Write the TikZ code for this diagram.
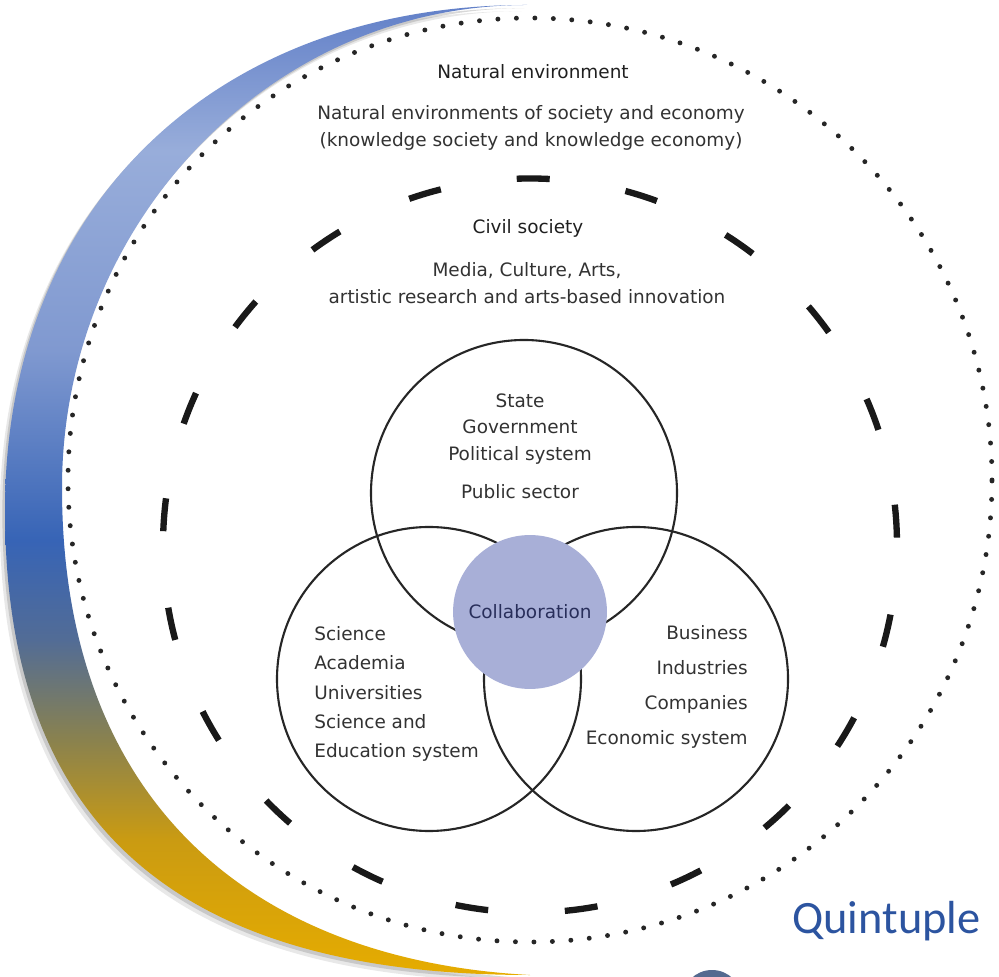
\documentclass[tikz,border=0pt]{standalone}
\usepackage{fontspec}
\setmainfont{DejaVu Sans}
\newfontfamily\quintfont{Carlito}
\usetikzlibrary{shadows}

\definecolor{tipblue}{RGB}{98,128,200}
\definecolor{paleblue}{RGB}{152,173,218}
\definecolor{softblue}{RGB}{128,153,208}
\definecolor{deepblue}{RGB}{55,100,182}
\definecolor{slateblue}{RGB}{82,108,150}
\definecolor{olivegold}{RGB}{138,130,78}
\definecolor{darkgold}{RGB}{202,155,18}
\definecolor{brightgold}{RGB}{230,172,0}
\definecolor{collabfill}{RGB}{168,175,215}
\definecolor{collabtext}{RGB}{40,46,90}
\definecolor{quintblue}{RGB}{44,84,160}
\definecolor{blobgray}{RGB}{84,106,144}
\definecolor{inktext}{RGB}{50,50,50}

\pgfdeclareverticalshading{crescentshade}{100bp}{color(0bp)=(brightgold); color(25bp)=(brightgold); color(32bp)=(darkgold); color(37.1bp)=(olivegold); color(42.3bp)=(slateblue); color(47.4bp)=(deepblue); color(57.2bp)=(softblue); color(67.5bp)=(paleblue); color(75bp)=(tipblue); color(100bp)=(tipblue)}

\begin{document}
\begin{tikzpicture}[x=0.02cm,y=0.02cm,inner sep=0.4mm,
  dotline/.style={line width=2.8pt,line cap=round,dash pattern=on 0pt off 10.5216pt,black!85},
  civilline/.style={line width=3.6pt,line cap=butt,dash pattern=on 18.78pt off 43.71pt,dash phase=58pt,black!90},
  venn/.style={line width=1.2pt,black!85},
  body/.style={font=\fontsize{10.5}{15.3}\selectfont,text=inktext,align=center},
  heading/.style={font=\fontsize{10.5}{15.3}\selectfont,text=black!88}]
\useasboundingbox (0,0) rectangle (999,976);
\fill[white] (0,0) rectangle (999,976);

\coordinate (outer) at (530,496);
\coordinate (civil) at (530,430.5);
\coordinate (statec) at (524,483);
\coordinate (sciencec) at (429,297);
\coordinate (businessc) at (636,297);
\coordinate (tiptop) at (527,971);
\coordinate (tipbottom) at (530,1);
\coordinate (rimleft) at (5,466);
\coordinate (hollowleft) at (62,488);

\draw[dotline] (outer) circle (462);
\draw[civilline] (civil) circle (367);

\shade[shading=crescentshade,
  drop shadow={shadow xshift=-3pt,shadow yshift=-3.5pt,opacity=0.18},
  drop shadow={shadow xshift=-1.5pt,shadow yshift=-1.8pt,opacity=0.3}]
  (tiptop) .. controls (214,971) and (5,769) .. (rimleft)
  .. controls (5,164) and (162,1) .. (tipbottom)
  .. controls (250,16) and (62,176) .. (hollowleft)
  .. controls (62,751) and (268,971) .. (tiptop) -- cycle;

\draw[venn] (statec) circle (153);
\draw[venn] (sciencec) circle (152);
\draw[venn] (businessc) circle (152);
\node[circle,fill=collabfill,minimum size=87.6pt,inner sep=0,font=\fontsize{10.5}{12}\selectfont,text=collabtext] (collab) at (530,364) {Collaboration};

\node[heading] (natural) at (533,904) {Natural environment};
\node[body] (naturaltext) at (531,848) {Natural environments of society and economy\\(knowledge society and knowledge economy)};
\node[heading] (society) at (528,748) {Civil society};
\node[body] (societytext) at (527,693) {Media, Culture, Arts,\\artistic research and arts-based innovation};

\node[body] (state) at (520,530) {State\\Government\\Political system\\[6pt]Public sector};
\node[body,align=left,anchor=west,inner sep=0,font=\fontsize{10.5}{16.6}\selectfont] (science) at (314,282) {Science\\Academia\\Universities\\Science and\\Education system};
\node[body,align=right,anchor=east,inner sep=0,font=\fontsize{10.5}{19.8}\selectfont] (business) at (748,289) {Business\\Industries\\Companies\\Economic system};

\node[anchor=base west,inner sep=0,font=\quintfont\fontsize{26.4}{30}\selectfont,text=quintblue] (quintuple) at (792,43) {Quintuple};
\fill[blobgray] (712,-24) circle (30);
\end{tikzpicture}
\end{document}
